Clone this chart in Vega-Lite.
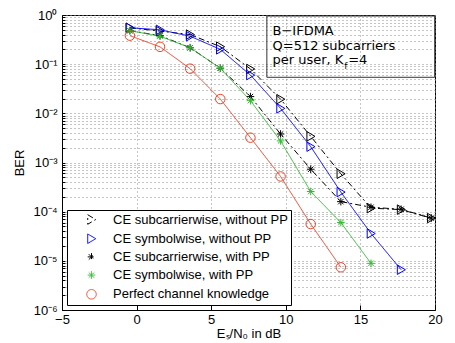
{
  "$schema": "https://vega.github.io/schema/vega-lite/v6.json",
  "width": 373,
  "height": 295,
  "autosize": {"type": "none"},
  "padding": {"left": 62, "top": 15, "right": 20, "bottom": 33},
  "config": {
    "font": "Liberation Sans",
    "view": {"stroke": "#000000", "strokeWidth": 1},
    "axis": {
      "domainColor": "#000000",
      "tickColor": "#000000",
      "labelColor": "#000000",
      "titleColor": "#000000",
      "labelFontSize": 13,
      "titleFontSize": 13,
      "titleFontWeight": "normal",
      "grid": true,
      "gridColor": "#8a8a8a",
      "gridDash": [1, 3],
      "gridWidth": 1,
      "gridOpacity": 1
    },
    "legend": {
      "orient": "bottom-left",
      "offset": 5,
      "strokeColor": "#000000",
      "fillColor": "#ffffff",
      "padding": 3,
      "cornerRadius": 0,
      "symbolSize": 90,
      "symbolOffset": 15,
      "labelOffset": 15,
      "rowPadding": 4.2,
      "labelFont": "Liberation Sans",
      "labelFontSize": 13,
      "labelColor": "#000000",
      "labelLimit": 400,
      "symbolStrokeWidth": 1
    }
  },
  "data": {
    "values": [
      {"series": "CE subcarrierwise, without PP", "snr": -0.45, "ber": 0.55},
      {"series": "CE subcarrierwise, without PP", "snr": 1.57, "ber": 0.47},
      {"series": "CE subcarrierwise, without PP", "snr": 3.59, "ber": 0.4},
      {"series": "CE subcarrierwise, without PP", "snr": 5.61, "ber": 0.227},
      {"series": "CE subcarrierwise, without PP", "snr": 7.63, "ber": 0.08},
      {"series": "CE subcarrierwise, without PP", "snr": 9.65, "ber": 0.0194},
      {"series": "CE subcarrierwise, without PP", "snr": 11.67, "ber": 0.0034},
      {"series": "CE subcarrierwise, without PP", "snr": 13.69, "ber": 0.00059},
      {"series": "CE subcarrierwise, without PP", "snr": 15.71, "ber": 0.000118},
      {"series": "CE subcarrierwise, without PP", "snr": 17.73, "ber": 0.00011},
      {"series": "CE subcarrierwise, without PP", "snr": 19.75, "ber": 0.000074},
      {"series": "CE symbolwise, without PP", "snr": -0.45, "ber": 0.55},
      {"series": "CE symbolwise, without PP", "snr": 1.57, "ber": 0.5},
      {"series": "CE symbolwise, without PP", "snr": 3.59, "ber": 0.37},
      {"series": "CE symbolwise, without PP", "snr": 5.61, "ber": 0.2},
      {"series": "CE symbolwise, without PP", "snr": 7.63, "ber": 0.06},
      {"series": "CE symbolwise, without PP", "snr": 9.65, "ber": 0.0126},
      {"series": "CE symbolwise, without PP", "snr": 11.67, "ber": 0.0021},
      {"series": "CE symbolwise, without PP", "snr": 13.69, "ber": 0.00025},
      {"series": "CE symbolwise, without PP", "snr": 15.71, "ber": 0.000036},
      {"series": "CE symbolwise, without PP", "snr": 17.73, "ber": 0.0000066},
      {"series": "CE subcarrierwise, with PP", "snr": -0.45, "ber": 0.48},
      {"series": "CE subcarrierwise, with PP", "snr": 1.57, "ber": 0.38},
      {"series": "CE subcarrierwise, with PP", "snr": 3.59, "ber": 0.216},
      {"series": "CE subcarrierwise, with PP", "snr": 5.61, "ber": 0.0826},
      {"series": "CE subcarrierwise, with PP", "snr": 7.63, "ber": 0.0219},
      {"series": "CE subcarrierwise, with PP", "snr": 9.65, "ber": 0.0038},
      {"series": "CE subcarrierwise, with PP", "snr": 11.67, "ber": 0.00073},
      {"series": "CE subcarrierwise, with PP", "snr": 13.69, "ber": 0.00016},
      {"series": "CE subcarrierwise, with PP", "snr": 15.71, "ber": 0.000123},
      {"series": "CE subcarrierwise, with PP", "snr": 17.73, "ber": 0.000112},
      {"series": "CE subcarrierwise, with PP", "snr": 19.75, "ber": 0.000074},
      {"series": "CE symbolwise, with PP", "snr": -0.45, "ber": 0.48},
      {"series": "CE symbolwise, with PP", "snr": 1.57, "ber": 0.37},
      {"series": "CE symbolwise, with PP", "snr": 3.59, "ber": 0.216},
      {"series": "CE symbolwise, with PP", "snr": 5.61, "ber": 0.0826},
      {"series": "CE symbolwise, with PP", "snr": 7.63, "ber": 0.0181},
      {"series": "CE symbolwise, with PP", "snr": 9.65, "ber": 0.00275},
      {"series": "CE symbolwise, with PP", "snr": 11.67, "ber": 0.000257},
      {"series": "CE symbolwise, with PP", "snr": 13.69, "ber": 0.00006},
      {"series": "CE symbolwise, with PP", "snr": 15.71, "ber": 0.0000089},
      {"series": "Perfect channel knowledge", "snr": -0.45, "ber": 0.38},
      {"series": "Perfect channel knowledge", "snr": 1.57, "ber": 0.225},
      {"series": "Perfect channel knowledge", "snr": 3.59, "ber": 0.081},
      {"series": "Perfect channel knowledge", "snr": 5.61, "ber": 0.0195},
      {"series": "Perfect channel knowledge", "snr": 7.63, "ber": 0.0032},
      {"series": "Perfect channel knowledge", "snr": 9.65, "ber": 0.00052},
      {"series": "Perfect channel knowledge", "snr": 11.67, "ber": 0.000056},
      {"series": "Perfect channel knowledge", "snr": 13.69, "ber": 0.0000074}
    ]
  },
  "encoding": {
    "x": {
      "field": "snr", "type": "quantitative",
      "scale": {"domain": [-5, 20], "nice": false, "zero": false},
      "axis": {
        "values": [-5, 0, 5, 10, 15, 20],
        "title": "Eₛ/N₀ in dB",
        "tickSize": -5,
        "labelPadding": 8,
        "titlePadding": 1,
        "labelFlush": false
      }
    },
    "y": {
      "field": "ber", "type": "quantitative",
      "scale": {"type": "log", "domain": [0.000001, 1], "nice": false},
      "axis": {
        "values": [1e-6, 2e-6, 3e-6, 4e-6, 5e-6, 6e-6, 7e-6, 8e-6, 9e-6,
                   1e-5, 2e-5, 3e-5, 4e-5, 5e-5, 6e-5, 7e-5, 8e-5, 9e-5,
                   1e-4, 2e-4, 3e-4, 4e-4, 5e-4, 6e-4, 7e-4, 8e-4, 9e-4,
                   0.001, 0.002, 0.003, 0.004, 0.005, 0.006, 0.007, 0.008, 0.009,
                   0.01, 0.02, 0.03, 0.04, 0.05, 0.06, 0.07, 0.08, 0.09,
                   0.1, 0.2, 0.3, 0.4, 0.5, 0.6, 0.7, 0.8, 0.9, 1],
        "labelExpr": "abs(log(datum.value)/LN10 - round(log(datum.value)/LN10)) < 0.001 ? ['10⁰','10⁻¹','10⁻²','10⁻³','10⁻⁴','10⁻⁵','10⁻⁶'][-round(log(datum.value)/LN10)] : ''",
        "title": "BER",
        "tickSize": -3,
        "labelPadding": 8,
        "titlePadding": 6,
        "labelFlush": false,
        "labelOverlap": false
      }
    }
  },
  "layer": [
    {
      "mark": {"type": "line", "strokeWidth": 1, "clip": true},
      "encoding": {
        "color": {
          "field": "series", "type": "nominal",
          "scale": {
            "domain": ["CE subcarrierwise, without PP", "CE symbolwise, without PP", "CE subcarrierwise, with PP", "CE symbolwise, with PP", "Perfect channel knowledge"],
            "range": ["#000000", "#0000ff", "#000000", "#33bb33", "#e8452a"]
          },
          "legend": {"title": null}
        },
        "strokeDash": {
          "field": "series", "type": "nominal",
          "scale": {
            "domain": ["CE subcarrierwise, without PP", "CE symbolwise, without PP", "CE subcarrierwise, with PP", "CE symbolwise, with PP", "Perfect channel knowledge"],
            "range": [[6, 3, 2, 3], [1, 0], [6, 3, 2, 3], [1, 0], [1, 0]]
          },
          "legend": null
        }
      }
    },
    {
      "mark": {"type": "point", "filled": false, "size": 90, "strokeWidth": 1, "opacity": 1},
      "encoding": {
        "color": {
          "field": "series", "type": "nominal",
          "scale": {
            "domain": ["CE subcarrierwise, without PP", "CE symbolwise, without PP", "CE subcarrierwise, with PP", "CE symbolwise, with PP", "Perfect channel knowledge"],
            "range": ["#000000", "#0000ff", "#000000", "#33bb33", "#e8452a"]
          },
          "legend": {"title": null}
        },
        "shape": {
          "field": "series", "type": "nominal",
          "scale": {
            "domain": ["CE subcarrierwise, without PP", "CE symbolwise, without PP", "CE subcarrierwise, with PP", "CE symbolwise, with PP", "Perfect channel knowledge"],
            "range": ["M-0.8,-1L0.9,0L-0.8,1Z", "M-0.8,-1L0.9,0L-0.8,1Z", "M-0.8,0L0.8,0M0,-0.8L0,0.8M-0.57,-0.57L0.57,0.57M-0.57,0.57L0.57,-0.57", "M-0.8,0L0.8,0M0,-0.8L0,0.8M-0.57,-0.57L0.57,0.57M-0.57,0.57L0.57,-0.57", "circle"]
          },
          "legend": {"title": null}
        }
      }
    },
    {
      "transform": [{"filter": "datum.series == 'Perfect channel knowledge' && datum.snr < 0"}],
      "mark": {"type": "rect", "fill": "transparent", "stroke": "#333333", "strokeWidth": 1},
      "encoding": {
        "x": {"datum": 8.73, "type": "quantitative"},
        "x2": {"datum": 19.98},
        "y": {"datum": 0.954, "type": "quantitative"},
        "y2": {"datum": 0.0541}
      }
    },
    {
      "transform": [{"filter": "datum.series == 'Perfect channel knowledge' && datum.snr < 0"}],
      "mark": {"type": "text", "text": "B−IFDMA", "font": "DejaVu Sans", "fontSize": 13, "align": "left", "baseline": "alphabetic", "color": "#000000"},
      "encoding": {
        "x": {"datum": 9.11, "type": "quantitative"},
        "y": {"datum": 0.39, "type": "quantitative"}
      }
    },
    {
      "transform": [{"filter": "datum.series == 'Perfect channel knowledge' && datum.snr < 0"}],
      "mark": {"type": "text", "text": "Q=512 subcarriers", "font": "DejaVu Sans", "fontSize": 13, "align": "left", "baseline": "alphabetic", "color": "#000000"},
      "encoding": {
        "x": {"datum": 9.11, "type": "quantitative"},
        "y": {"datum": 0.19, "type": "quantitative"}
      }
    },
    {
      "transform": [{"filter": "datum.series == 'Perfect channel knowledge' && datum.snr < 0"}],
      "mark": {"type": "text", "text": "per user, K", "font": "DejaVu Sans", "fontSize": 13, "align": "left", "baseline": "alphabetic", "color": "#000000"},
      "encoding": {
        "x": {"datum": 9.11, "type": "quantitative"},
        "y": {"datum": 0.0985, "type": "quantitative"}
      }
    },
    {
      "transform": [{"filter": "datum.series == 'Perfect channel knowledge' && datum.snr < 0"}],
      "mark": {"type": "text", "text": "f", "font": "DejaVu Sans", "fontSize": 9, "align": "left", "baseline": "alphabetic", "color": "#000000"},
      "encoding": {
        "x": {"datum": 13.92, "type": "quantitative"},
        "y": {"datum": 0.081, "type": "quantitative"}
      }
    },
    {
      "transform": [{"filter": "datum.series == 'Perfect channel knowledge' && datum.snr < 0"}],
      "mark": {"type": "text", "text": "=4", "font": "DejaVu Sans", "fontSize": 13, "align": "left", "baseline": "alphabetic", "color": "#000000"},
      "encoding": {
        "x": {"datum": 14.18, "type": "quantitative"},
        "y": {"datum": 0.0985, "type": "quantitative"}
      }
    }
  ]
}
